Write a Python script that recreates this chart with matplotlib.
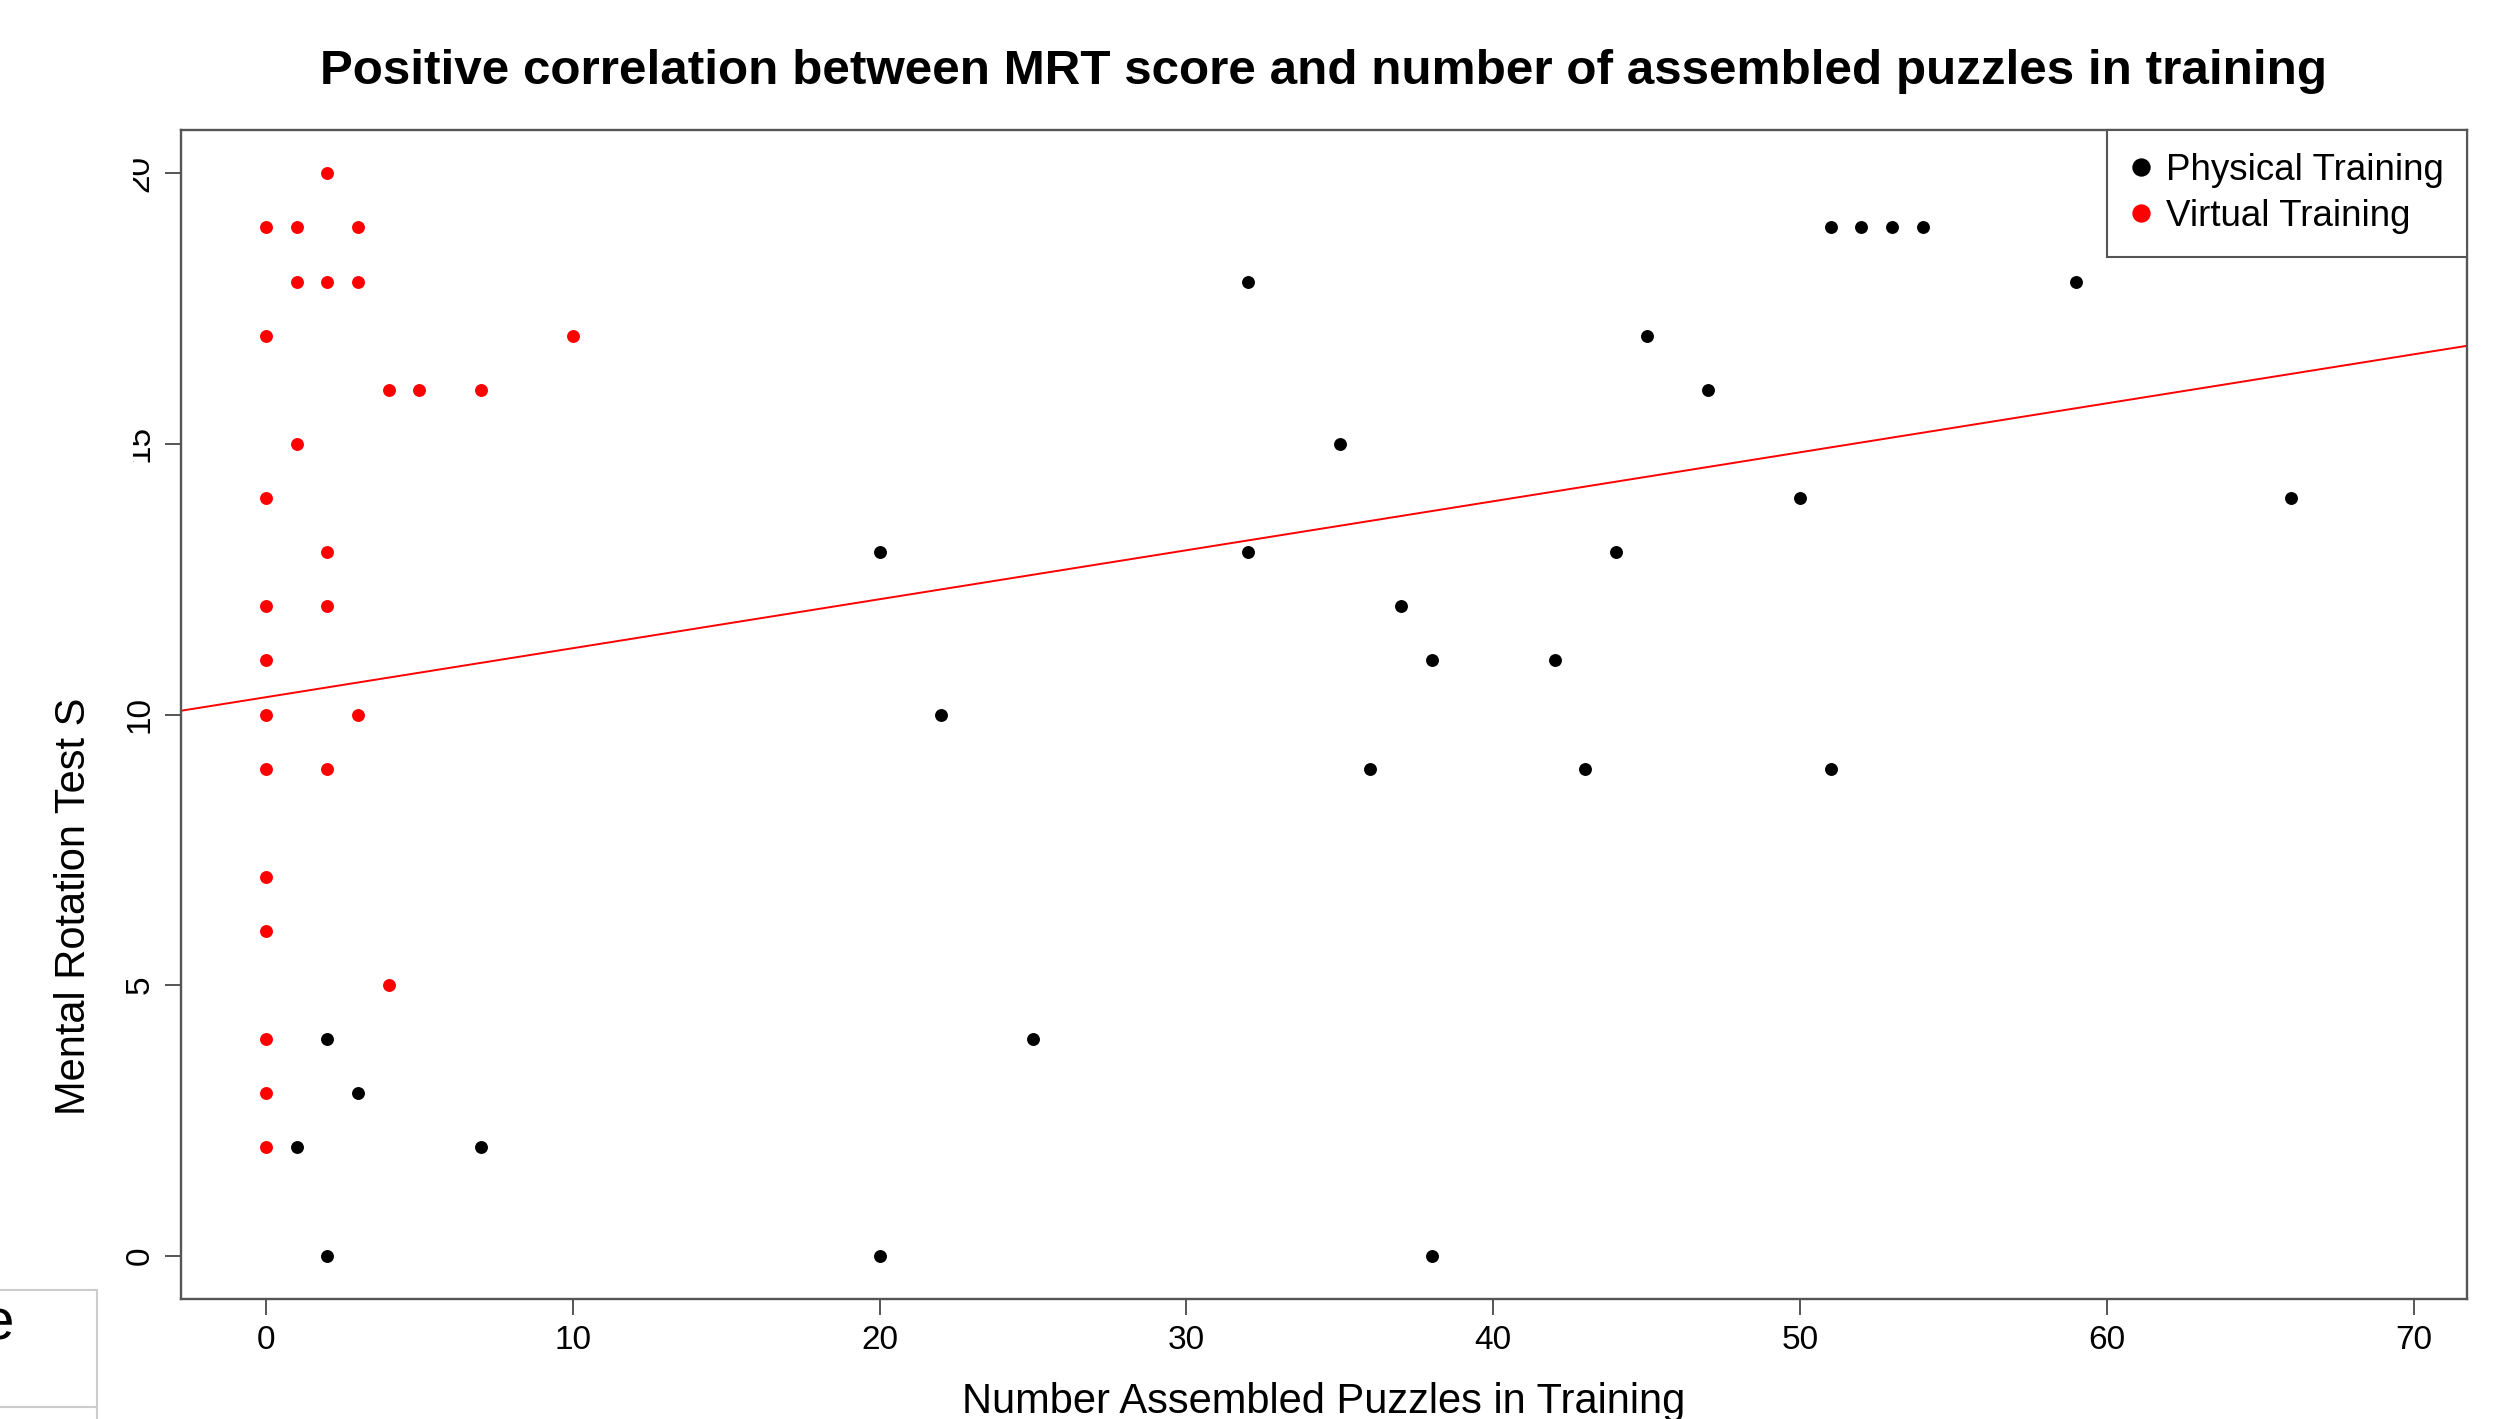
import matplotlib
matplotlib.use("Agg")
import matplotlib.pyplot as plt
from matplotlib.patches import Rectangle
import numpy as np

plt.rcParams['font.family'] = ['Liberation Sans', 'DejaVu Sans']

# physical training group (black)
phys_x = [32, 51, 52, 53, 54, 59, 45, 47, 35, 50, 66, 20, 32, 44, 37, 38, 42,
          22, 36, 43, 51, 2, 25, 3, 1, 7, 2, 20, 38]
phys_y = [18, 19, 19, 19, 19, 18, 17, 16, 15, 14, 14, 13, 13, 13, 12, 11, 11,
          10, 9, 9, 9, 4, 4, 3, 2, 2, 0, 0, 0]

# virtual training group (red)
virt_x = [2, 0, 1, 3, 1, 2, 3, 0, 10, 4, 5, 7, 1, 0, 2, 0, 2, 0, 0, 3, 0, 2,
          0, 0, 4, 0, 0, 0]
virt_y = [20, 19, 19, 19, 18, 18, 18, 17, 17, 16, 16, 16, 15, 14, 13, 12, 12,
          11, 10, 10, 9, 9, 7, 6, 5, 4, 3, 2]

# regression line
fit_intercept = 10.32
fit_slope = 0.0905

xticks = [0, 10, 20, 30, 40, 50, 60, 70]
yticks = [0, 5, 10, 15, 20]

W, H = 2518, 1419
fig = plt.figure(figsize=(W/100, H/100), dpi=100)
ax = fig.add_axes([181/W, 1-1299/H, (2467-181)/W, (1299-130)/H])

ax.plot(phys_x, phys_y, 'o', color='black', ms=9.3, mew=0, label='Physical Training')
ax.plot(virt_x, virt_y, 'o', color='red', ms=9.3, mew=0, label='Virtual Training')
ax.axline((0, fit_intercept), slope=fit_slope, color='red', lw=1.4)

ax.set_xlim(-2.77, 71.74)
ax.set_ylim(-0.8, 20.8)
ax.set_xticks(xticks)
ax.set_yticks(yticks)

for s in ax.spines.values():
    s.set_color('#555555')
    s.set_linewidth(1.7)
ax.tick_params(length=11.5, width=1.4, color='#555555', labelsize=24, pad=7)
for lab in ax.get_yticklabels():
    lab.set_rotation(90)
    lab.set_va('center')

leg = ax.legend(loc='upper right', borderaxespad=0, fontsize=26.5, markerscale=1.42,
                handlelength=0.6, handletextpad=0.4, borderpad=0.62,
                labelspacing=0.3, fancybox=False, framealpha=1,
                edgecolor='#555555')
leg.get_frame().set_linewidth(1.5)

fig.text(1324/W, 1-71/H, 'Positive correlation between MRT score and number of assembled puzzles in training',
         ha='center', va='center', fontsize=35.6, fontweight='bold')
fig.text(1324/W, 1-1402/H, 'Number Assembled Puzzles in Training',
         ha='center', va='center', fontsize=30)
fig.text(74/W, 1-906/H, 'Mental Rotation Test S', rotation=90,
         ha='center', va='center', fontsize=30)

# screenshot artefacts: white patch over the left edge, box with a cut "e"
fig.add_artist(Rectangle((0, 1-600/H), 133/W, 500/H, transform=fig.transFigure,
                         facecolor='white', edgecolor='none', zorder=10))
fig.add_artist(Rectangle((-10/W, -20/H), 107/W, (1419-1290+20)/H,
                         transform=fig.transFigure, facecolor='white',
                         edgecolor='#cccccc', lw=1.5, zorder=11))
fig.add_artist(plt.Line2D([0, 97/W], [1-1407/H, 1-1407/H], transform=fig.transFigure,
                          color='#cccccc', lw=1.5, zorder=12))
fig.text(-18/W, 1-1340/H, 'e', fontsize=42, ha='left', va='baseline', zorder=12)

fig.savefig('out.png', dpi=100)
